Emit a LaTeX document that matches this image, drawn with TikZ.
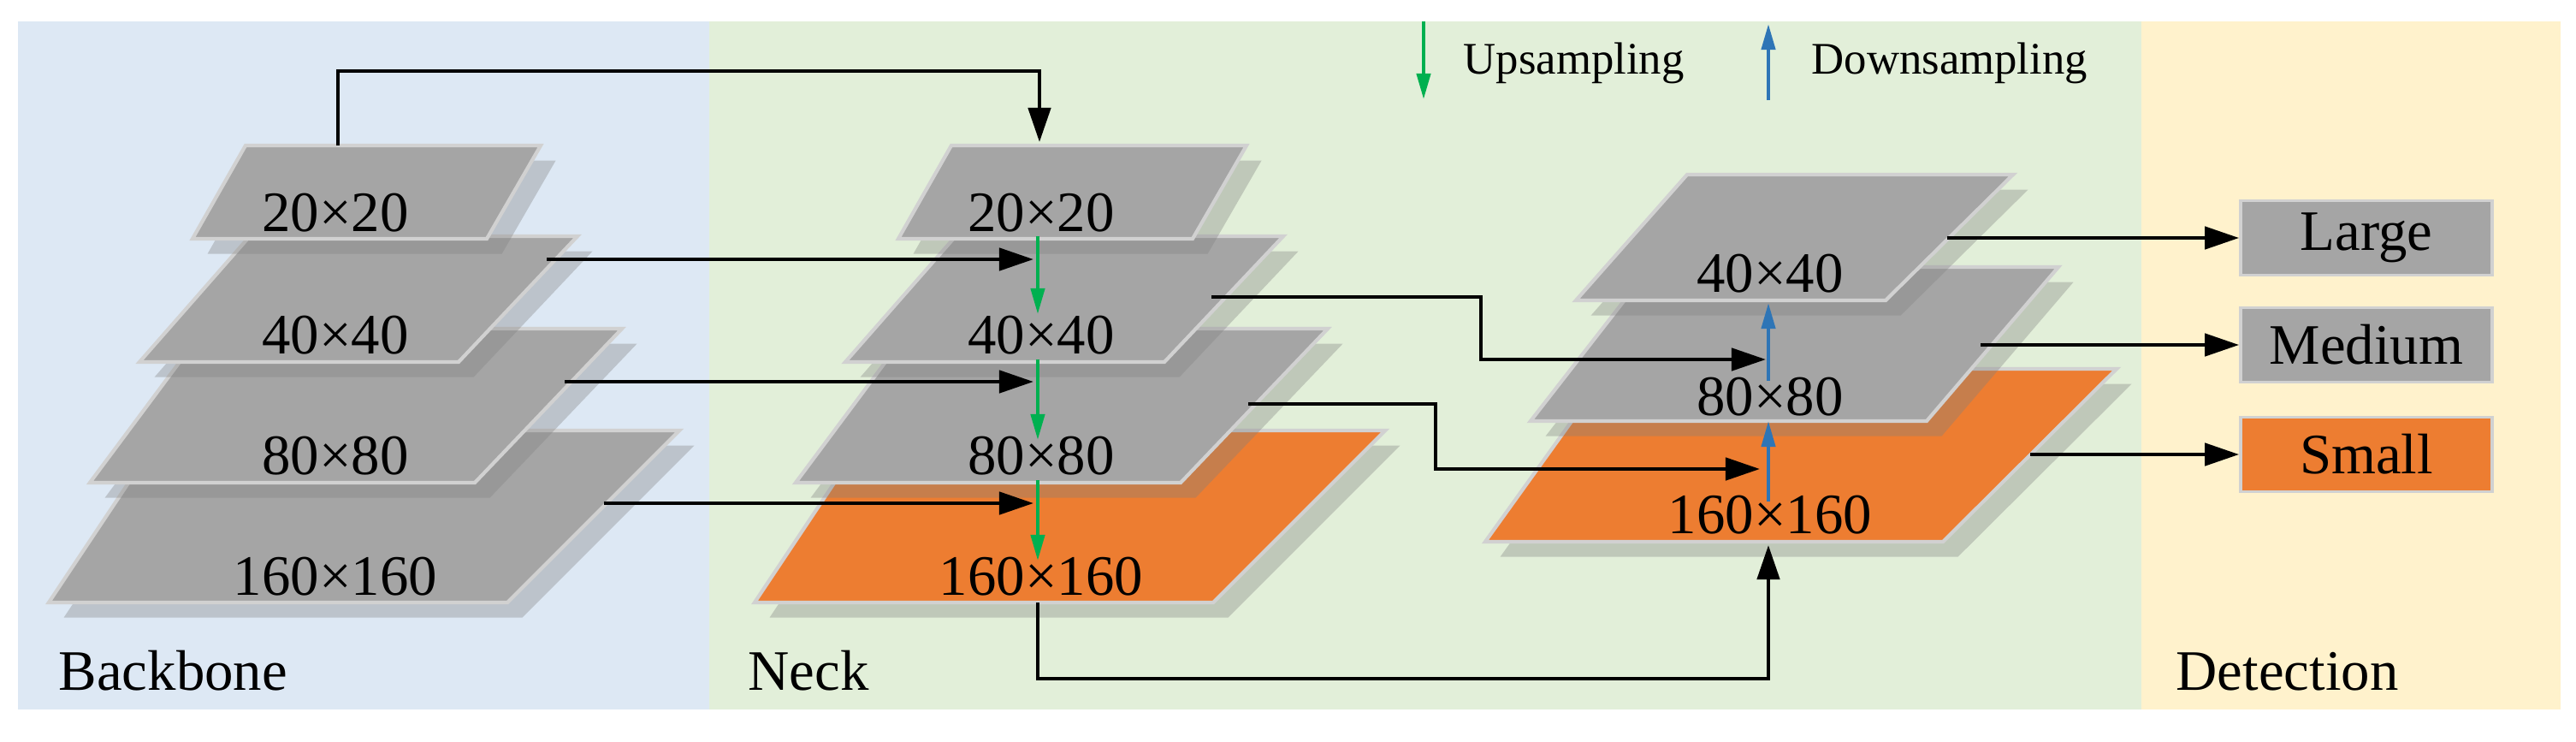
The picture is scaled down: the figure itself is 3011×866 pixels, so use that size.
\documentclass[tikz,border=0pt]{standalone}
\usepackage{fontspec}
\setmainfont{Liberation Serif}
\usetikzlibrary{arrows.meta,shadows}
\definecolor{bgB}{HTML}{DDE8F4}
\definecolor{bgG}{HTML}{E2EFD9}
\definecolor{bgY}{HTML}{FFF2CC}
\definecolor{lay}{HTML}{A5A5A5}
\definecolor{org}{HTML}{ED7D31}
\definecolor{upc}{HTML}{00B050}
\definecolor{dnc}{HTML}{2E75B6}
\begin{document}
\begin{tikzpicture}[x=0.01cm,y=-0.01cm,
  layer/.style={draw=black!18,line width=1.2pt,drop shadow={shadow xshift=5pt,shadow yshift=-5pt,opacity=0.35}},
  lbl/.style={font=\fontsize{19}{22}\selectfont,inner sep=0pt},
  big/.style={font=\fontsize{19}{22}\selectfont,anchor=base west,inner sep=0pt},
  arr/.style={line width=1.3pt,-{Triangle[length=0.4cm,width=0.26cm]}},
  ln/.style={line width=1.3pt},
  up/.style={draw=upc,line width=1.2pt,-{Triangle[length=0.3cm,width=0.16cm]}},
  dn/.style={draw=dnc,line width=1.2pt,-{Triangle[length=0.3cm,width=0.16cm]}},
  box/.style={draw=black!18,line width=1pt,minimum width=2.94cm,minimum height=0.87cm,font=\fontsize{19}{22}\selectfont,inner sep=0pt}]
\useasboundingbox[fill=white] (0,0) rectangle (3011,866);
\fill[bgB] (21,25) rectangle (829,829);
\fill[bgG] (829,25) rectangle (2503,829);
\fill[bgY] (2503,25) rectangle (2993,829);
\node[big] (bb) at (68,806) {Backbone};
\node[big] (nk) at (874,806) {Neck};
\node[big] (dt) at (2543,806) {Detection};
% backbone
\filldraw[layer,fill=lay] (191,503)--(794,503)--(593,704)--(57,704)--cycle;
\node[lbl] (b160) at (392,674) {160×160};
\filldraw[layer,fill=lay] (239,384)--(727,384)--(555,564)--(105,564)--cycle;
\node[lbl] (b80) at (392,533) {80×80};
\filldraw[layer,fill=lay] (292,276)--(675,276)--(536,423)--(163,423)--cycle;
\node[lbl] (b40) at (392,392) {40×40};
\filldraw[layer,fill=lay] (287,170)--(632,170)--(569,279)--(225,279)--cycle;
\node[lbl] (b20) at (392,249) {20×20};
% neck
\begin{scope}[xshift=825*0.01cm]
\filldraw[layer,fill=org] (191,503)--(794,503)--(593,704)--(57,704)--cycle;
\node[lbl] (n160) at (392,674) {160×160};
\filldraw[layer,fill=lay] (239,384)--(727,384)--(555,564)--(105,564)--cycle;
\node[lbl] (n80) at (392,533) {80×80};
\filldraw[layer,fill=lay] (292,276)--(675,276)--(536,423)--(163,423)--cycle;
\node[lbl] (n40) at (392,392) {40×40};
\filldraw[layer,fill=lay] (287,170)--(632,170)--(569,279)--(225,279)--cycle;
\node[lbl] (n20) at (392,249) {20×20};
\end{scope}
% head
\filldraw[layer,fill=org] (1881,431)--(2474,431)--(2271,633)--(1736,633)--cycle;
\node[lbl] (h160) at (2069,602) {160×160};
\filldraw[layer,fill=lay] (1929,312)--(2406,312)--(2252,492)--(1789,492)--cycle;
\node[lbl] (h80) at (2069,464) {80×80};
\filldraw[layer,fill=lay] (1972,204)--(2353,204)--(2204,351)--(1842,351)--cycle;
\node[lbl] (h40) at (2069,320) {40×40};
% boxes
\node[box,fill=lay] (L) at (2766,278) {Large};
\node[box,fill=lay] (M) at (2766,403) {Medium};
\node[box,fill=org] (S) at (2766,531) {Small};
% coordinates
\coordinate (s0) at (395,170); \coordinate (s1) at (1215,166);
\coordinate (a40) at (639,303); \coordinate (t40) at (1208,303);
\coordinate (a80) at (660,446); \coordinate (t80) at (1208,446);
\coordinate (a160) at (706,588); \coordinate (t160) at (1208,588);
\coordinate (c40) at (1416,347); \coordinate (d40) at (2064,420);
\coordinate (c80) at (1459,472); \coordinate (d80) at (2057,548);
\coordinate (e0) at (1213,704); \coordinate (e1) at (2067,637);
\coordinate (oL) at (2276,278); \coordinate (oM) at (2315,403); \coordinate (oS) at (2373,531);
\draw[arr] (s0)--(395,83)-|(s1);
\draw[arr] (a40)--(t40);
\draw[arr] (a80)--(t80);
\draw[arr] (a160)--(t160);
\draw[arr] (c40)-|(1731,420)--(d40);
\draw[arr] (c80)-|(1678,548)--(d80);
\draw[arr] (e0)--(1213,793)-|(e1);
\draw[arr] (oL)--(L.west);
\draw[arr] (oM)--(M.west);
\draw[arr] (oS)--(S.west);
% up/down
\draw[up] (1213,276)--(1213,367);
\draw[up] (1213,420)--(1213,514);
\draw[up] (1213,561)--(1213,655);
\draw[dn] (2067,586)--(2067,492);
\draw[dn] (2067,445)--(2067,354);
% legend
\coordinate (g0) at (1664,25); \coordinate (g1) at (1664,116);
\coordinate (q0) at (2067,117); \coordinate (q1) at (2067,28);
\draw[up] (g0)--(g1);
\draw[dn] (q0)--(q1);
\node[anchor=base west,inner sep=0pt,font=\fontsize{15}{18}\selectfont] (ul) at (1710,86) {Upsampling};
\node[anchor=base west,inner sep=0pt,font=\fontsize{15}{18}\selectfont] (dl) at (2117,86) {Downsampling};
\end{tikzpicture}
\end{document}
